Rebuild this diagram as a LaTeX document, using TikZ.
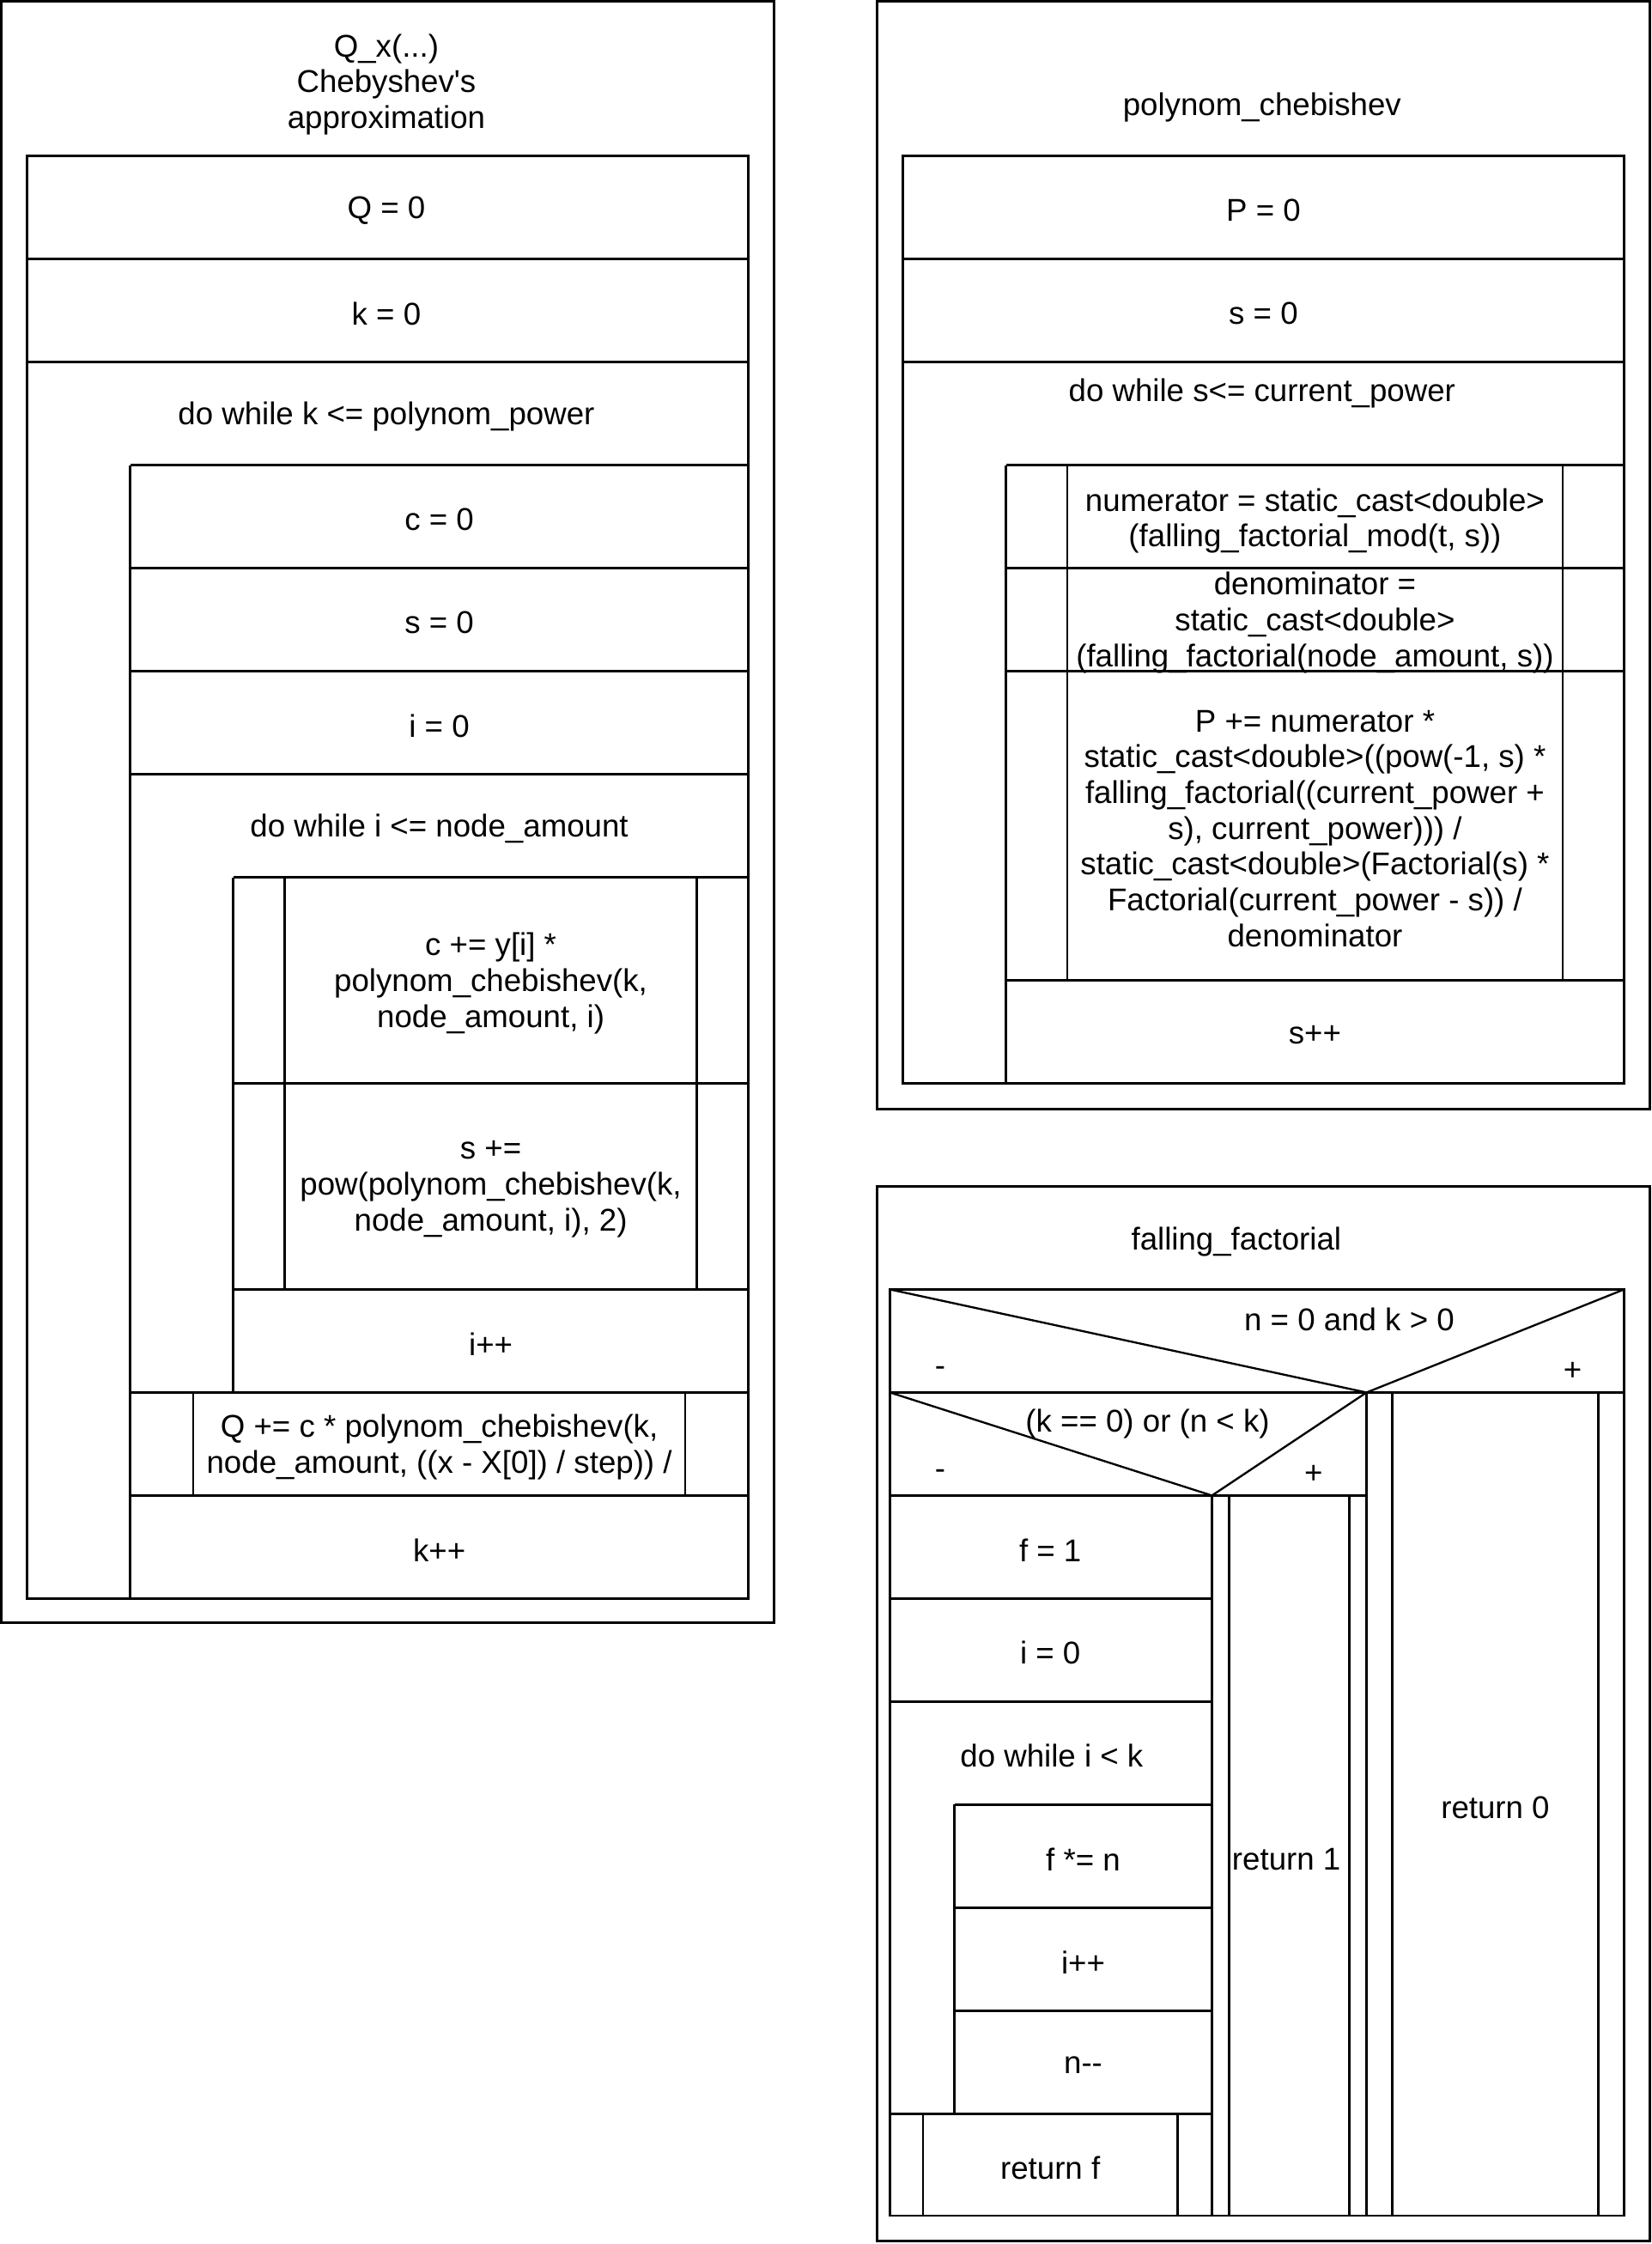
\documentclass[tikz,border=0pt]{standalone}
\usepackage{fontspec}
\setmainfont{Liberation Sans}
\begin{document}
\begin{tikzpicture}[x=1pt,y=-1pt,line join=miter,line width=1.4pt,
		txt/.style={align=center,inner sep=0pt,yshift=-2pt,font=\fontsize{22}{25}\selectfont},
		frame/.style={line width=1.6pt}]
	\useasboundingbox (0,0) rectangle (1154,1568);
	\coordinate (A) at (1,1);
	\coordinate (B) at (541,1134);
	\coordinate (C) at (613,1);
	\coordinate (D) at (1153,775);
	\coordinate (E) at (613,829);
	\coordinate (F) at (1153,1566);
	\draw[frame] (A) rectangle (B);
	\draw[frame] (C) rectangle (D);
	\draw[frame] (E) rectangle (F);
	\node[txt] (qtitle) at (270,57) {Q\_x(...)\\Chebyshev\textquotesingle s\\approximation};
	\draw (19,109) rectangle (523,1117);
	\draw (19,181) -- (523,181);
	\draw (19,253) -- (523,253);
	\draw (91,325) -- (523,325);
	\draw (91,397) -- (523,397);
	\draw (91,469) -- (523,469);
	\draw (91,541) -- (523,541);
	\draw (163,613) -- (523,613);
	\draw (163,757) -- (523,757);
	\draw (163,901) -- (523,901);
	\draw (91,973) -- (523,973);
	\draw (91,1045) -- (523,1045);
	\draw (91,325) -- (91,1117);
	\draw (163,613) -- (163,973);
	\draw (199,613) -- (199,901);
	\draw (487,613) -- (487,901);
	\draw (135,973) -- (135,1045);
	\draw (479,973) -- (479,1045);
	\node[txt] (qzero) at (270,145) {Q = 0};
	\node[txt] (kzero) at (270,217) {k = 0};
	\node[txt] (kloop) at (270,289) {do while k <= polynom\_power};
	\node[txt] (czero) at (307,361) {c = 0};
	\node[txt] (szero) at (307,433) {s = 0};
	\node[txt] (izero) at (307,505) {i = 0};
	\node[txt] (iloop) at (307,577) {do while i <= node\_amount};
	\node[txt] (cadd) at (343,685) {c += y[i] *\\polynom\_chebishev(k,\\node\_amount, i)};
	\node[txt] (sadd) at (343,829) {s +=\\pow(polynom\_chebishev(k,\\node\_amount, i), 2)};
	\node[txt] (iinc) at (343,937) {i++};
	\node[txt] (qadd) at (307,1009) {Q += c * polynom\_chebishev(k,\\node\_amount, ((x - X[0]) / step)) /};
	\node[txt] (kinc) at (307,1081) {k++};
	\node[txt] (ptitle) at (882,73) {polynom\_chebishev};
	\draw (631,109) rectangle (1135,757);
	\draw (631,181) -- (1135,181);
	\draw (631,253) -- (1135,253);
	\draw (703,325) -- (1135,325);
	\draw (703,397) -- (1135,397);
	\draw (703,469) -- (1135,469);
	\draw (703,685) -- (1135,685);
	\draw (703,325) -- (703,757);
	\draw (746,325) -- (746,685);
	\draw (1092,325) -- (1092,685);
	\node[txt] (pzero) at (883,145) {P = 0};
	\node[txt] (szero2) at (883,217) {s = 0};
	\node[txt] (sloop) at (882,273) {do while s<= current\_power};
	\node[txt] (numer) at (919,362) {numerator = static\_cast<double>\\(falling\_factorial\_mod(t, s))};
	\node[txt] (denom) at (919,433) {denominator =\\static\_cast<double>\\(falling\_factorial(node\_amount, s))};
	\node[txt] (padd) at (919,577) {P += numerator *\\static\_cast<double>((pow(-1, s) *\\falling\_factorial((current\_power +\\s), current\_power))) /\\static\_cast<double>(Factorial(s) *\\Factorial(current\_power - s)) /\\denominator};
	\node[txt] (sinc) at (919,721) {s++};
	\node[txt] (ftitle) at (864,866) {falling\_factorial};
	\draw (622,901) rectangle (1135,1548);
	\draw (622,973) -- (1135,973);
	\draw (622,901) -- (955,973) -- (1135,901);
	\node[txt] (cond1) at (943,920) {n = 0 and k > 0};
	\node[txt] (no1) at (657,956) {-};
	\node[txt] (yes1) at (1099,956) {+};
	\draw (955,973) -- (955,1548);
	\draw (622,1045) -- (955,1045);
	\draw (622,973) -- (847,1045) -- (955,973);
	\node[txt] (cond2) at (802,993) {(k == 0) or (n < k)};
	\node[txt] (no2) at (657,1028) {-};
	\node[txt] (yes2) at (918,1028) {+};
	\draw (847,1045) -- (847,1548);
	\draw (859,1045) -- (859,1548);
	\draw (943,1045) -- (943,1548);
	\draw (973,973) -- (973,1548);
	\draw (1117,973) -- (1117,1548);
	\draw (622,1117) -- (847,1117);
	\draw (622,1189) -- (847,1189);
	\draw (667,1261) -- (847,1261);
	\draw (667,1333) -- (847,1333);
	\draw (667,1405) -- (847,1405);
	\draw (622,1477) -- (847,1477);
	\draw (667,1261) -- (667,1477);
	\draw (645,1477) -- (645,1548);
	\draw (823,1477) -- (823,1548);
	\node[txt] (fone) at (734,1081) {f = 1};
	\node[txt] (izero2) at (734,1153) {i = 0};
	\node[txt] (floop) at (735,1225) {do while i < k};
	\node[txt] (fmul) at (757,1297) {f *= n};
	\node[txt] (iinc2) at (757,1369) {i++};
	\node[txt] (ndec) at (757,1441) {n-{}-};
	\node[txt] (retf) at (734,1513) {return f};
	\node[txt] (retone) at (899,1297) {return 1};
	\node[txt] (retzero) at (1045,1261) {return 0};
\end{tikzpicture}
\end{document}
